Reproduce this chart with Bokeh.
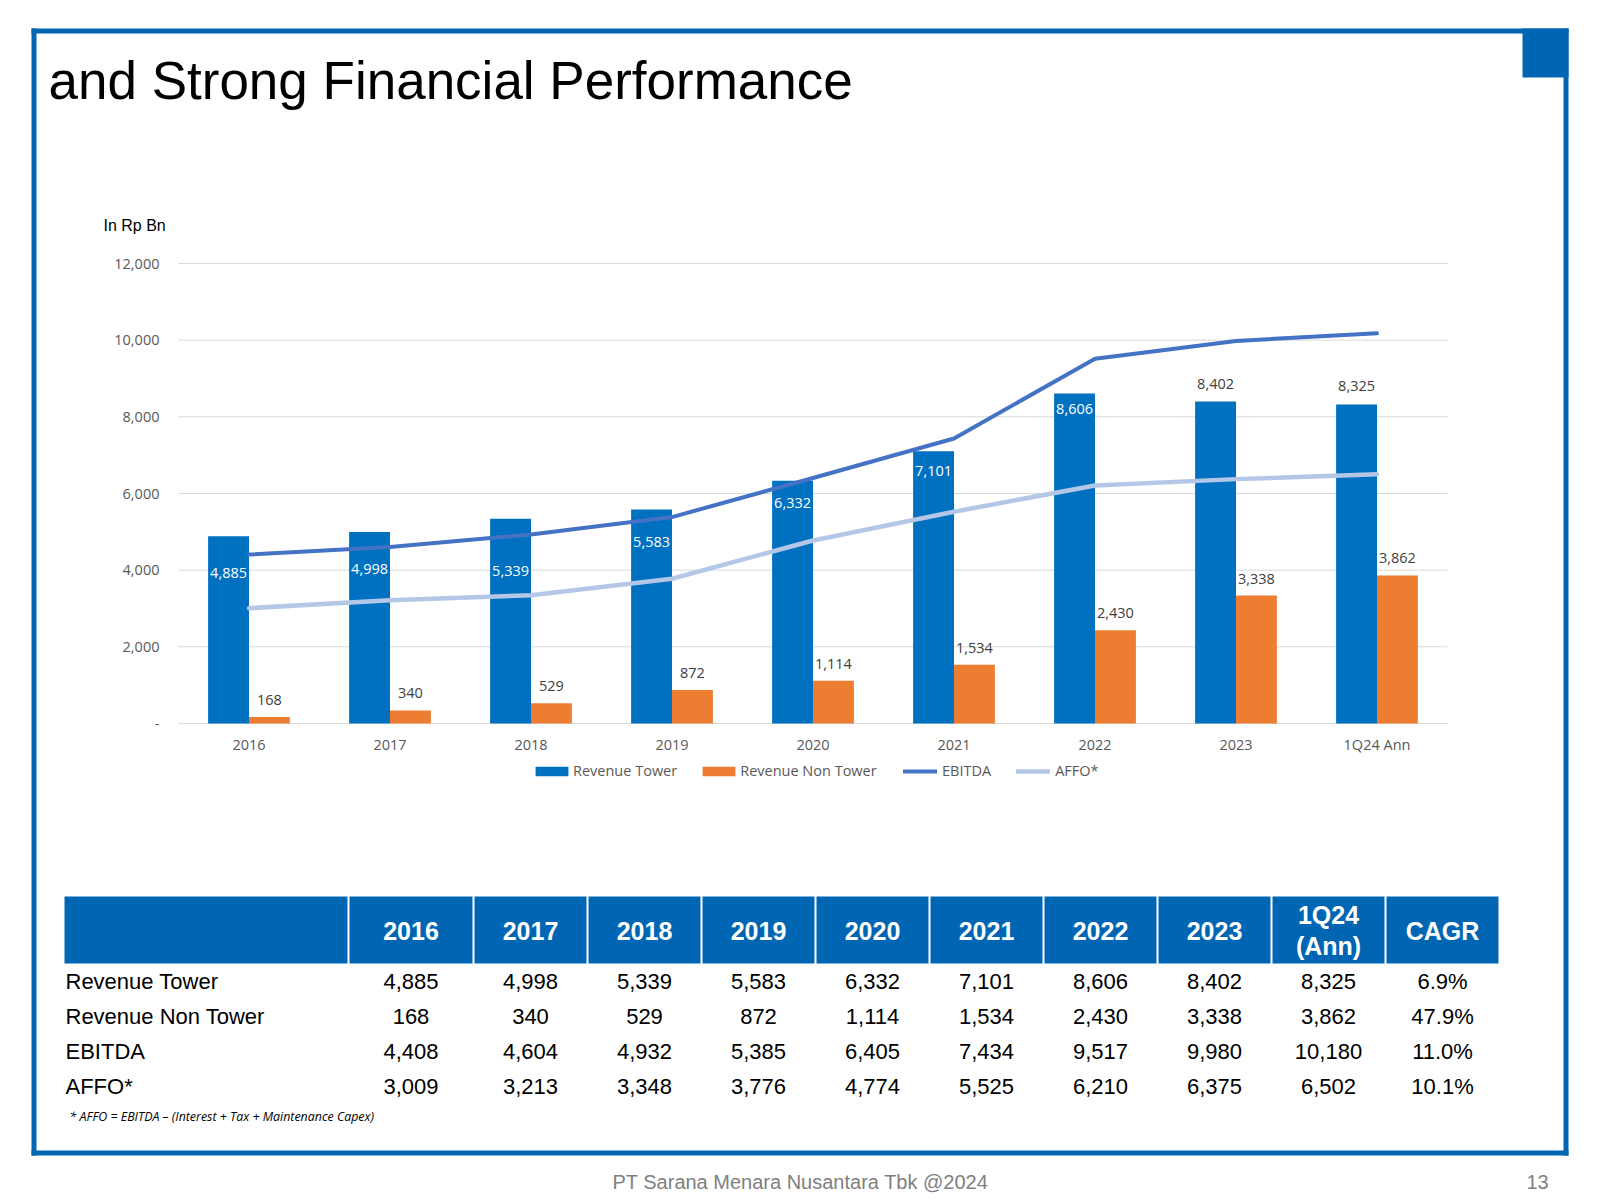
from bokeh.plotting import figure
from bokeh.models import (ColumnDataSource, Range1d, FixedTicker, NumeralTickFormatter,
                          LinearAxis, Legend, LegendItem)
from bokeh.transform import dodge
from bokeh.core.properties import value
from bokeh.embed import file_html
from bokeh.resources import INLINE

# ---------------- data ----------------
categories = ["2016", "2017", "2018", "2019", "2020", "2021", "2022", "2023", "1Q24 Ann"]
revenue_tower = [4885, 4998, 5339, 5583, 6332, 7101, 8606, 8402, 8325]
revenue_non_tower = [168, 340, 529, 872, 1114, 1534, 2430, 3338, 3862]
ebitda = [4408, 4604, 4932, 5385, 6405, 7434, 9517, 9980, 10180]
affo = [3009, 3213, 3348, 3776, 4774, 5525, 6210, 6375, 6502]
cagr = ["6.9%", "47.9%", "11.0%", "10.1%"]
table_headers = ["2016", "2017", "2018", "2019", "2020", "2021", "2022", "2023", "1Q24\n(Ann)", "CAGR"]
row_names = ["Revenue Tower", "Revenue Non Tower", "EBITDA", "AFFO*"]
y_ticks = [0, 2000, 4000, 6000, 8000, 10000, 12000]

# label nudges (pixels, positive = down), as placed on the slide
tower_label_nudge = [37, 37, 52, 33, 22, 20, 15, -17, -18]
non_tower_label_nudge = -17

# ---------------- layout constants (page pixels) ----------------
W, H = 1600, 1200
FL, FR, FT, FB = 178, 1447, 263, 723       # chart plotting area on the page
Y_MAX = 12000
BLUE = "#0066B3"
TICK_GRAY = "#595959"
CHART_FONT = "Open Sans"
SLIDE_FONT = "Liberation Sans"

n = len(categories)
pitch = (FR - FL) / n
ppu = (FB - FT) / Y_MAX

p = figure(width=W, height=H, x_range=Range1d(0, W), y_range=Range1d(H, 0),
           output_backend="svg", toolbar_location=None,
           x_axis_location=None, y_axis_location=None, min_border=0)
p.min_border_left = p.min_border_right = p.min_border_top = p.min_border_bottom = 0
p.outline_line_color = None
p.background_fill_color = "white"
p.border_fill_color = "white"
p.grid.visible = False

# chart coordinate system mapped onto the chart area of the page
p.extra_x_ranges = {"chart": Range1d(-FL / pitch, (W - FL) / pitch)}
p.extra_y_ranges = {"chart": Range1d(-(H - FB) / ppu, FB / ppu)}
CH = dict(x_range_name="chart", y_range_name="chart")

xc = [i + 0.5 for i in range(n)]
src = ColumnDataSource(dict(
    xc=xc, tower=revenue_tower, non=revenue_non_tower, ebitda=ebitda, affo=affo,
    tower_lbl=[f"{v:,}" for v in revenue_tower],
    non_lbl=[f"{v:,}" for v in revenue_non_tower],
    tower_off=tower_label_nudge,
    tower_col=["white" if o > 0 else "#404040" for o in tower_label_nudge],
))

# gridlines
p.segment(x0=0, x1=n, y0=y_ticks, y1=y_ticks, line_color="#D9D9D9", line_width=1, **CH)

bw = 0.29
r_tower = p.vbar(x=dodge("xc", -0.145), top="tower", width=bw, source=src,
                 fill_color="#0070C0", line_color=None, **CH)
r_non = p.vbar(x=dodge("xc", 0.145), top="non", width=bw, source=src,
               fill_color="#ED7D31", line_color=None, **CH)
r_eb = p.line(x="xc", y="ebitda", source=src, line_color="#4472C4", line_width=4,
              line_join="round", line_cap="round", **CH)
r_af = p.line(x="xc", y="affo", source=src, line_color="#B4C7E7", line_width=4.5,
              line_join="round", line_cap="round", **CH)

p.text(x=dodge("xc", -0.145), y="tower", text="tower_lbl", source=src,
       y_offset="tower_off", text_color="tower_col", text_align="center",
       text_baseline="middle", text_font=value(CHART_FONT), text_font_size="14.5px", **CH)
p.text(x=dodge("xc", 0.145), y="non", text="non_lbl", source=src,
       y_offset=non_tower_label_nudge, text_color="#404040", text_align="center",
       text_baseline="middle", text_font=value(CHART_FONT), text_font_size="14.5px", **CH)

# axes drawn at fixed locations inside the page
yax = LinearAxis(fixed_location=0, ticker=FixedTicker(ticks=y_ticks),
                 formatter=NumeralTickFormatter(format="0,0"),
                 major_label_overrides={0: "-"}, axis_line_color=None,
                 major_tick_line_color=None, minor_tick_line_color=None,
                 major_tick_out=0, major_tick_in=0, minor_tick_out=0, minor_tick_in=0,
                 major_label_standoff=19,
                 major_label_text_font=CHART_FONT, major_label_text_font_size="14.5px",
                 major_label_text_color=TICK_GRAY, **CH)
p.add_layout(yax, "left")
xax = LinearAxis(fixed_location=0, ticker=FixedTicker(ticks=xc),
                 major_label_overrides={x: c for x, c in zip(xc, categories)},
                 axis_line_color=None, major_tick_line_color=None,
                 minor_tick_line_color=None, major_tick_out=0, major_tick_in=0,
                 minor_tick_out=0, minor_tick_in=0, major_label_standoff=11,
                 major_label_text_font=CHART_FONT, major_label_text_font_size="14.5px",
                 major_label_text_color=TICK_GRAY, **CH)
p.add_layout(xax, "below")

# legends (screen position relative to the page's bottom-left)
leg_bars = Legend(items=[LegendItem(label="Revenue Tower", renderers=[r_tower]),
                         LegendItem(label="Revenue Non Tower", renderers=[r_non])],
                  orientation="horizontal", location=(531, H - 780), padding=0, margin=0,
                  spacing=21, glyph_width=41, glyph_height=12, label_standoff=1,
                  label_text_font=CHART_FONT, label_text_font_size="14.5px",
                  label_text_color=TICK_GRAY, border_line_color=None,
                  background_fill_alpha=0)
leg_lines = Legend(items=[LegendItem(label="EBITDA", renderers=[r_eb]),
                          LegendItem(label="AFFO*", renderers=[r_af])],
                   orientation="horizontal", location=(903, H - 780), padding=0, margin=0,
                   spacing=25, glyph_width=34, glyph_height=12, label_standoff=5,
                   label_text_font=CHART_FONT, label_text_font_size="14.5px",
                   label_text_color=TICK_GRAY, border_line_color=None,
                   background_fill_alpha=0)
p.add_layout(leg_bars)
p.add_layout(leg_lines)

# ---------------- slide decoration (page pixels) ----------------
p.quad(left=[31, 31, 31, 1563, 1522], right=[1568, 1568, 36, 1568, 1568],
       top=[28, 1150, 28, 28, 28], bottom=[33, 1155, 1155, 1155, 77],
       fill_color=BLUE, line_color=None)

p.text(x=[48], y=[80], text=["and Strong Financial Performance"],
       text_font=value(SLIDE_FONT), text_font_size="53px", text_color="black",
       text_baseline="alphabetic")
p.text(x=[103], y=[225], text=["In Rp Bn"], text_font=value(SLIDE_FONT),
       text_font_size="16px", text_color="black", text_baseline="middle")

# table
edges = [64, 348, 473] + [473 + 114 * (k + 1) for k in range(9)]
HT, HB = 896, 963
p.quad(left=[edges[i] + (0 if i == 0 else 1) for i in range(len(edges) - 1)],
       right=[edges[i + 1] - 1 for i in range(len(edges) - 1)],
       top=HT, bottom=HB, fill_color=BLUE, line_color=None)
centers = [(edges[i] + edges[i + 1]) / 2 for i in range(1, len(edges) - 1)]

hx, hy, ht = [], [], []
for c, h in zip(centers, table_headers):
    lines = h.split("\n")
    for j, ln in enumerate(lines):
        hx.append(c)
        hy.append(930 + (j - (len(lines) - 1) / 2) * 31)
        ht.append(ln)
p.text(x=hx, y=hy, text=ht, text_align="center", text_baseline="middle",
       text_color="white", text_font=value(SLIDE_FONT), text_font_style="bold",
       text_font_size="25px")

row_y = [981, 1016, 1051, 1086]
series = [revenue_tower, revenue_non_tower, ebitda, affo]
p.text(x=[65] * len(row_names), y=row_y, text=row_names, text_align="left",
       text_baseline="middle", text_color="black", text_font=value(SLIDE_FONT),
       text_font_size="22px")
vx, vy, vt = [], [], []
for ry, vals, cg in zip(row_y, series, cagr):
    cells = [f"{v:,}" for v in vals] + [cg]
    for c, t in zip(centers, cells):
        vx.append(c)
        vy.append(ry)
        vt.append(t)
p.text(x=vx, y=vy, text=vt, text_align="center", text_baseline="middle",
       text_color="black", text_font=value(SLIDE_FONT), text_font_size="22px")

p.text(x=[69], y=[1116], text=["* AFFO = EBITDA \u2013 (Interest + Tax + Maintenance Capex)"],
       text_font=value(CHART_FONT), text_font_style="italic", text_font_size="12.4px",
       text_color="black", text_baseline="middle")

p.text(x=[612], y=[1181], text=["PT Sarana Menara Nusantara Tbk @2024"],
       text_font=value(SLIDE_FONT), text_font_size="20px", text_color="#7F7F7F",
       text_baseline="middle")
p.text(x=[1526], y=[1181], text=["13"], text_font=value(SLIDE_FONT),
       text_font_size="20px", text_color="#7F7F7F", text_baseline="middle")

open("out.html", "w").write(file_html(p, INLINE))
